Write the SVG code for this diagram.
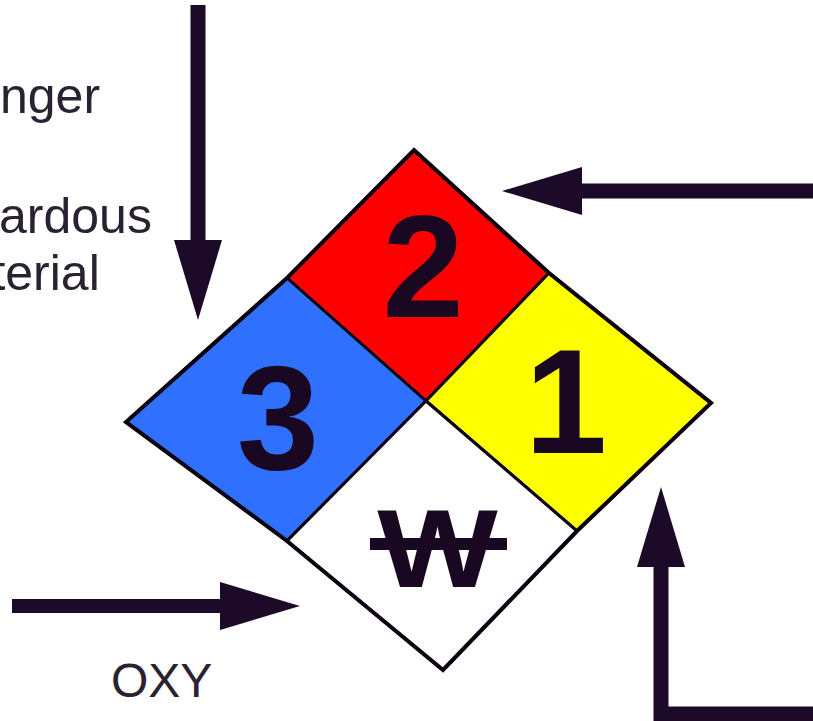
<svg xmlns="http://www.w3.org/2000/svg" width="813" height="721" viewBox="0 0 813 721">
  <style>
    .lbl { font-family: "Liberation Sans", Arial, sans-serif; font-size: 50px; fill: #2a2230; }
    .num { font-family: "Liberation Sans", Arial, sans-serif; font-weight: bold; font-size: 148px; fill: #1a0822; text-anchor: middle; }
    .quad { stroke: #0a0010; stroke-width: 3; stroke-linejoin: miter; }
    .shaft { fill: none; stroke: #1c0a28; stroke-width: 15; stroke-linejoin: miter; marker-end: url(#head); }
  </style>
  <defs>
    <marker id="head" markerUnits="userSpaceOnUse" markerWidth="80" markerHeight="48" refX="0" refY="24" orient="auto" overflow="visible">
      <path d="M0,0 L80,24 L0,48 Z" fill="#1c0a28"/>
    </marker>
  </defs>
  <rect width="813" height="721" fill="#ffffff"/>

  <g id="connectors">
    <path class="shaft" d="M198,5 L198,240"/>
    <path class="shaft" d="M813,191 L582,191"/>
    <path class="shaft" d="M12,606 L220,606" style="stroke-width:14"/>
    <path class="shaft" d="M813,714 L661,714 L661,567"/>
  </g>

  <g id="label-danger"><text class="lbl" x="0" y="113">nger</text></g>
  <g id="label-hazardous"><text class="lbl" x="-1" y="233">ardous</text></g>
  <g id="label-material"><text class="lbl" x="-8.6" y="290">terial</text></g>
  <g id="label-oxy"><text class="lbl" x="111" y="697" style="font-size:48px">OXY</text></g>

  <g id="flammability">
    <polygon class="quad" points="414,150 549,273 426,401 287,278" fill="#ff0000"/>
    <text class="num" x="423" y="317" style="font-size:146px">2</text>
  </g>
  <g id="instability">
    <polygon class="quad" points="549,273 711,403 577,531 426,401" fill="#ffff00"/>
    <text class="num" x="566" y="453">1</text>
  </g>
  <g id="health">
    <polygon class="quad" points="287,278 426,401 287,541 126,422" fill="#3070ff"/>
    <text class="num" x="278" y="469">3</text>
  </g>
  <g id="special">
    <polygon class="quad" points="426,401 577,531 443,670 287,541" fill="#ffffff"/>
    <text class="num" transform="translate(437.5,587) scale(1.14,1)" x="0" y="0" style="font-size:112px">W</text>
    <rect x="370" y="538" width="137" height="12" fill="#1a0822"/>
  </g>
  <g id="outline">
    <polygon points="414,150 549,273 711,403 577,531 443,670 287,541 126,422 287,278" fill="none" stroke="#0a0010" stroke-width="4" stroke-linejoin="miter"/>
  </g>
</svg>
